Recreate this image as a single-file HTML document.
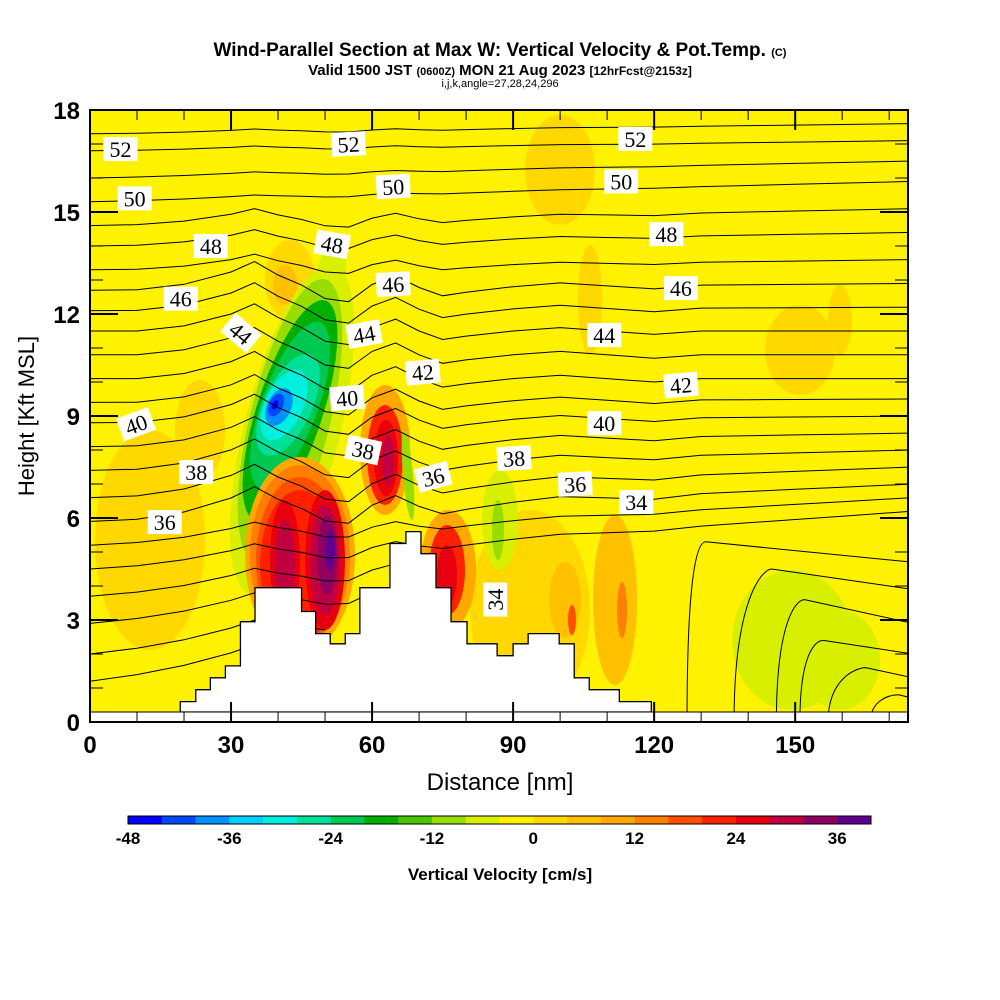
<!DOCTYPE html>
<html><head><meta charset="utf-8"><style>
body{margin:0;background:#fff;}
svg{display:block;font-family:"Liberation Sans",sans-serif;}
</style></head><body>
<svg id="chart" width="1000" height="1000" viewBox="0 0 1000 1000">
<text x="500" y="56" text-anchor="middle" font-size="19" font-weight="bold">Wind-Parallel Section at Max W: Vertical Velocity &amp; Pot.Temp. <tspan font-size="11">(C)</tspan></text>
<text x="500" y="75" text-anchor="middle" font-size="15" font-weight="bold">Valid 1500 JST <tspan font-size="11">(0600Z)</tspan> MON 21 Aug 2023 <tspan font-size="12">[12hrFcst@2153z]</tspan></text>
<text x="500" y="87" text-anchor="middle" font-size="11">i,j,k,angle=27,28,24,296</text>
<defs><clipPath id="pc"><rect x="90" y="110" width="818" height="612"/></clipPath></defs>
<g clip-path="url(#pc)">
<rect x="90" y="110" width="818" height="612" fill="#fff200"/>
<g id="fills"></g>
<g id="lines" fill="none" stroke="#000" stroke-width="1"></g>
<g id="terrain"></g>
<rect x="90" y="712" width="818" height="10" fill="#fff" stroke="#000" stroke-width="1"/>
<g id="labels"></g>
</g>
<rect x="90" y="110" width="818" height="612" fill="none" stroke="#000" stroke-width="2"/>
<g id="axes"></g>
<text x="500" y="790" text-anchor="middle" font-size="24">Distance [nm]</text>
<text transform="translate(34,416) rotate(-90)" text-anchor="middle" font-size="22">Height [Kft MSL]</text>
<g id="cbar"></g>
<text x="500" y="880" text-anchor="middle" font-size="17" font-weight="bold">Vertical Velocity [cm/s]</text>
</svg>
<script>
// ---- data ----
const xTicks = [0,30,60,90,120,150];
const yTicks = [0,3,6,9,12,15,18];
const cbarTicks = [-48,-36,-24,-12,0,12,24,36];
const cbarColors = ["#0000ff","#0048ff","#0090ff","#00d0ff","#00f0e0","#00e098","#00c850","#00b000","#48c800","#98dc00","#d8f000","#fff200","#ffd800","#ffc000","#ffa800","#ff8000","#ff5000","#ff2000","#e80010","#c00040","#900060","#600090"];
const levels = [53,52,51,50,49,48,47,46,45,44,43,42,41,40,39,38,37,36,35,34,33,32,31,30];
const hLeft  = [17.3,16.8,16.0,15.3,14.6,14.0,13.3,12.7,12.1,11.5,10.8,10.1,9.4,8.8,8.1,7.4,6.6,5.9,5.2,4.5,3.7,2.9,2.0,1.2];
const hRight = [17.6,17.1,16.5,15.9,15.1,14.4,13.6,12.9,12.2,11.5,10.8,10.1,9.5,9.0,8.5,8.0,7.5,7.0,6.6,6.2,5.8,5.4,5.0,4.6];
const xEnd   = [175,175,175,175,175,175,175,175,175,175,175,175,175,175,175,175,175,175,175,175,70,60,50,45];
const waveX  = [0,10,20,30,35,40,45,50,55,60,65,70,75,80,90,100,110,120,130,140,150,160,175];
const waveH  = [0,0,0.15,0.5,0.8,0.4,0.1,-0.3,-0.4,0.1,0.35,0,-0.25,-0.15,0,0.1,0,-0.1,0,0,0,0,0];
const domeGround = [127,137,146,151,157,166];
const domePeakX  = [131,145,152,156,165,172];
const domePeakH  = [5.3,4.5,3.6,2.4,1.6,0.8];
const domeRightH = [4.7,3.9,2.9,2.0,1.3,0.7];
const terrL = [19.2,22.5,25.6,28.8,32,35.1,45,48,51.1,54.3,57.4,63.8,67.2,70.4,73.6,76.8,80.2,86.6,90,93.2,99.8,103,106.2,112.6];
const terrR = [22.5,25.6,28.8,32,35.1,45,48,51.1,54.3,57.4,63.8,67.2,70.4,73.6,76.8,80.2,86.6,90,93.2,99.8,103,106.2,112.6,119.4];
const terrH = [0.6,0.95,1.3,1.65,2.95,3.95,3.25,2.6,2.3,2.6,3.95,5.25,5.6,4.95,3.95,2.95,2.3,1.95,2.3,2.6,2.3,1.3,0.95,0.6];
const labText = ["52","52","52","50","50","50","48","48","48","46","46","46","44","44","44","42","42","40","40","40","38","38","38","36","36","36","34","34"];
const labX = [6.5,55,116,9.5,64.5,113,25.7,51.5,122.6,19.3,64.5,125.7,32.1,58.3,109.4,70.8,125.7,9.8,54.7,109.4,22.6,58.1,90.2,15.9,73,103.2,116.2,86.2];
const labY = [16.85,17.0,17.15,15.4,15.75,15.9,14.0,14.05,14.35,12.45,12.88,12.76,11.44,11.41,11.38,10.29,9.91,8.76,9.53,8.79,7.35,8.0,7.76,5.88,7.21,7.0,6.47,3.6];
const labRot = [0,-3,0,0,-3,0,0,10,0,0,-3,0,40,-10,0,-5,-5,-20,-5,0,0,12,-3,0,-15,-3,0,-90];
// ---- scales ----
const X = v => 90 + v*818/174;
const Y = v => 722 - v*34;
const NS = "http://www.w3.org/2000/svg";
function mk(tag, attrs, parent){const e=document.createElementNS(NS,tag);for(const k in attrs)e.setAttribute(k,attrs[k]);parent.appendChild(e);return e;}
const blobs = [
["#ffd800",150,540,55,110,0],["#ffd800",200,430,25,50,0],["#ffd800",290,280,25,40,0],["#ffc000",285,285,12,20,0],
["#ffd800",560,170,35,55,0],["#ffd800",590,300,12,55,0],["#ffd800",800,350,35,45,0],["#ffd800",840,320,12,35,0],
["#ffd800",530,610,60,100,0],["#ffc000",615,600,22,85,0],["#ff8000",622,610,5,28,0],["#ffc000",565,600,16,38,0],["#ff5000",572,620,4,15,0],
["#d8f000",792,640,60,70,0],["#d8f000",840,660,40,50,0],
["#d8f000",292,430,48,170,14],["#d8f000",330,280,15,40,10],["#98dc00",290,420,40,145,14],["#00b000",290,410,33,115,18],
["#00c850",290,405,28,88,20],["#00e098",288,405,24,55,25],["#00f0e0",284,405,19,38,25],["#0090ff",279,407,12,20,25],
["#0048ff",276,405,7,12,25],["#0000ff",275,405,3,5,25],
["#ffa800",300,555,55,98,0],["#ff8000",300,555,50,90,0],["#ff5000",300,560,44,83,0],["#ff2000",300,565,40,75,0],
["#e80010",285,560,15,60,0],["#e80010",325,560,20,70,0],["#c00040",285,565,10,45,0],["#c00040",325,560,15,55,0],
["#900060",327,555,10,40,0],["#600090",330,550,5,20,0],
["#ffa800",385,450,25,65,0],["#ff2000",385,455,18,50,0],["#e80010",386,458,12,38,0],["#c00040",388,460,6,25,0],
["#98dc00",408,475,5,45,-5],
["#ffa800",448,570,28,60,0],["#ff2000",447,570,18,45,0],["#e80010",447,575,10,30,0],
["#d8f000",500,520,18,50,0],["#98dc00",498,530,6,30,0]
];
const fills = document.getElementById('fills');
blobs.forEach(b=>{
  const e = mk('ellipse',{cx:b[1],cy:b[2],rx:b[3],ry:b[4],fill:b[0],transform:`rotate(${b[5]} ${b[1]} ${b[2]})`},fills);
  
  
});
const lines = document.getElementById('lines');
levels.forEach((L,i)=>{
  const amp = L>=50 ? 0.1 : (L>=47 ? 0.5 : (L>=36 ? 1 : 0.5));
  const pts = [];
  waveX.forEach((x,j)=>{
    if(x>xEnd[i]) return;
    const h = hLeft[i] + (hRight[i]-hLeft[i])*x/175 + amp*waveH[j];
    pts.push(X(x).toFixed(1)+','+Y(h).toFixed(1));
  });
  const p = mk('polyline',{points:pts.join(' ')},lines);
  
  
});
domeGround.forEach((g,i)=>{
  const d = `M${X(g)},${Y(0)} C${X(g)},${Y(domePeakH[i]*0.8)} ${X(domePeakX[i]-2)},${Y(domePeakH[i])} ${X(domePeakX[i])},${Y(domePeakH[i])} L${X(175)},${Y(domeRightH[i])}`;
  const p = mk('path',{d:d},lines);
  
  
});
const terr = document.getElementById('terrain');
let td = `M${X(terrL[0])},${Y(0)-10}`;
terrL.forEach((l,i)=>{ td += ` L${X(l)},${Y(terrH[i])} L${X(terrR[i])},${Y(terrH[i])}`; });
td += ` L${X(terrR[terrR.length-1])},${Y(0)-10} Z`;
const tp = mk('path',{d:td,fill:'#fff',stroke:'#000','stroke-width':1.3},terr);


const lab = document.getElementById('labels');
labText.forEach((t,i)=>{
  const cx=X(labX[i]), cy=Y(labY[i]);
  const g = mk('g',{transform:`rotate(${labRot[i]} ${cx} ${cy})`},lab);
  
  
  mk('rect',{x:cx-17,y:cy-12,width:34,height:24,fill:'#fff'},g);
  const tx = mk('text',{x:cx,y:cy+8,'text-anchor':'middle','font-size':22,'font-family':'"Liberation Serif",serif'},g);
  tx.textContent=t;
});
const ax = document.getElementById('axes');
for(let v=0; v<=170; v+=10){
  const major = v%30===0, len = major?20:10;
  const a = mk('line',{x1:X(v),x2:X(v),y1:722,y2:722-len,stroke:'#000','stroke-width':major?2:1},ax);
   
  const b = mk('line',{x1:X(v),x2:X(v),y1:110,y2:110+len,stroke:'#000','stroke-width':major?2:1},ax);
   
}
for(let v=0; v<=18; v+=1){
  const major = v%3===0, len = major?28:13;
  const a = mk('line',{x1:90,x2:90+len,y1:Y(v),y2:Y(v),stroke:'#000','stroke-width':major?2:1},ax);
   
  const b = mk('line',{x1:908,x2:908-len,y1:Y(v),y2:Y(v),stroke:'#000','stroke-width':major?2:1},ax);
   
}
xTicks.forEach(v=>{
  const t = mk('text',{x:X(v),y:753,'text-anchor':'middle','font-size':24,'font-weight':'bold'},ax);
   
  t.textContent=v;
});
yTicks.forEach(v=>{
  const t = mk('text',{x:80,y:Y(v)+9,'text-anchor':'end','font-size':24,'font-weight':'bold'},ax);
   
  t.textContent=v;
});
const cb = document.getElementById('cbar');
const cbX = v => 128 + (v+48)*743/88;
cbarColors.forEach((c,i)=>{
  const r = mk('rect',{x:cbX(-48+4*i),y:816,width:743/22+0.3,height:8,fill:c},cb);
   
});
const fr = mk('rect',{x:128,y:816,width:743,height:8,fill:'none',stroke:'#000','stroke-width':1},cb);
 
cbarTicks.forEach(v=>{
  const t = mk('text',{x:cbX(v),y:844,'text-anchor':'middle','font-size':17,'font-weight':'bold'},cb);
   
  t.textContent=v;
});
</script>
</body></html>
